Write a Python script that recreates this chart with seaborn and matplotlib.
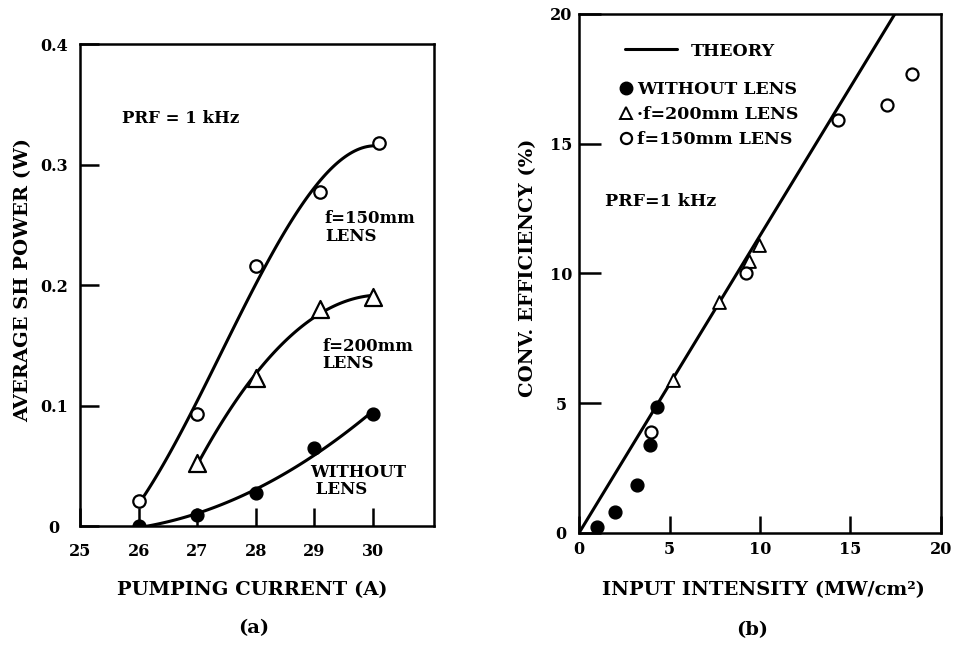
import numpy as np
import pandas as pd
import matplotlib
matplotlib.use("Agg")
import matplotlib.pyplot as plt
from matplotlib.lines import Line2D
import seaborn as sns

# ---------------- Panel (a): average SH power vs pumping current ----------------
current_none = [26, 27, 28, 29, 30]
power_none = [0.0, 0.009, 0.027, 0.065, 0.093]
current_200 = [27, 28, 29.1, 30]
power_200 = [0.052, 0.123, 0.180, 0.190]
current_150 = [26, 27, 28, 29.1, 30.1]
power_150 = [0.021, 0.093, 0.216, 0.277, 0.318]
a_xticks = [25, 26, 27, 28, 29, 30]
a_yticks = [0, 0.1, 0.2, 0.3, 0.4]
a_yticklabels = ["0", "0.1", "0.2", "0.3", "0.4"]

# ---------------- Panel (b): conversion efficiency vs input intensity ----------------
int_none = [1.0, 2.0, 3.2, 3.9, 4.3]
eff_none = [0.25, 0.8, 1.85, 3.4, 4.85]
int_200 = [5.2, 7.75, 9.4, 9.95]
eff_200 = [5.9, 8.9, 10.5, 11.1]
int_150 = [4.0, 9.2, 14.3, 17.0, 18.4]
eff_150 = [3.9, 10.0, 15.9, 16.5, 17.7]
theory_x = [0, 17.45]
theory_y = [0, 20]
b_ticks = [0, 5, 10, 15, 20]

sns.set_style("white")
plt.rcParams["font.family"] = ["DejaVu Serif"]
plt.rcParams["font.weight"] = "bold"
for key in ["text.color", "axes.labelcolor", "xtick.color", "ytick.color", "axes.edgecolor"]:
    plt.rcParams[key] = "black"

fig = plt.figure(figsize=(9.54, 6.51), dpi=100)
ax1 = fig.add_axes([0.08386, 0.19201, 0.37107, 0.74040])
ax2 = fig.add_axes([0.60692, 0.18126, 0.37945, 0.79724])

LW = 2.2
SPW = 1.8

for ax in (ax1, ax2):
    for sp in ax.spines.values():
        sp.set_linewidth(SPW)
        sp.set_color("black")
        sp.set_visible(True)

# ---- panel (a) curves ----
sns.regplot(x=current_150, y=power_150, order=3, ci=None, scatter=False, truncate=True,
            line_kws=dict(color="black", lw=LW), ax=ax1)
sns.regplot(x=current_200, y=power_200, order=2, ci=None, scatter=False, truncate=True,
            line_kws=dict(color="black", lw=LW), ax=ax1)
sns.regplot(x=current_none, y=power_none, order=2, ci=None, scatter=False, truncate=True,
            line_kws=dict(color="black", lw=LW), ax=ax1)

sns.scatterplot(x=current_150, y=power_150, marker="o", s=80, color="white",
                edgecolor="black", linewidth=1.6, zorder=4, ax=ax1)
sns.scatterplot(x=current_200, y=power_200, marker="^", s=150, color="white",
                edgecolor="black", linewidth=1.6, zorder=4, ax=ax1)
sns.scatterplot(x=current_none, y=power_none, marker="o", s=85, color="black",
                edgecolor="black", linewidth=1.0, zorder=4, ax=ax1)

ax1.set_xlim(25, 31.04)
ax1.set_ylim(0, 0.4)
ax1.set_xticks(a_xticks)
ax1.set_xticklabels([str(t) for t in a_xticks])
ax1.set_yticks(a_yticks)
ax1.set_yticklabels(a_yticklabels)
ax1.tick_params(axis="both", direction="in", width=1.8, labelsize=11.5,
                bottom=True, left=True, top=False, right=False, colors="black")
ax1.tick_params(axis="y", length=14, pad=18.5)
ax1.tick_params(axis="x", length=13, pad=12)
plt.setp(ax1.get_yticklabels(), ha="center")
ax1.set_xlabel("PUMPING CURRENT (A)", fontsize=14, fontweight="bold")
ax1.set_ylabel("AVERAGE SH POWER (W)", fontsize=14, fontweight="bold")
ax1.xaxis.set_label_coords(0.486, -0.133)
ax1.yaxis.set_label_coords(-0.160, 0.51)
ax1.xaxis.label.set_va("center")
ax1.yaxis.label.set_va("center")

ax1.text(25.71, 0.338, "PRF = 1 kHz", fontsize=12, fontweight="bold", va="center", ha="left")
ax1.text(29.18, 0.2477, "f=150mm\nLENS", fontsize=12, fontweight="bold", va="center",
         ha="left", linespacing=1.05)
ax1.text(29.13, 0.142, "f=200mm\nLENS", fontsize=12, fontweight="bold", va="center",
         ha="left", linespacing=1.05)
ax1.text(28.92, 0.037, "WITHOUT\n LENS", fontsize=12, fontweight="bold", va="center",
         ha="left", linespacing=1.0)

# ---- panel (b) ----
sns.lineplot(x=theory_x, y=theory_y, color="black", lw=LW, ax=ax2)
sns.scatterplot(x=int_none, y=eff_none, marker="o", s=85, color="black",
                edgecolor="black", linewidth=1.0, zorder=4, ax=ax2)
sns.scatterplot(x=int_200, y=eff_200, marker="^", s=85, color="white",
                edgecolor="black", linewidth=1.4, zorder=4, ax=ax2)
sns.scatterplot(x=int_150, y=eff_150, marker="o", s=75, color="white",
                edgecolor="black", linewidth=1.6, zorder=4, ax=ax2)

ax2.set_xlim(0, 20)
ax2.set_ylim(0, 20)
ax2.set_xticks(b_ticks)
ax2.set_yticks(b_ticks)
ax2.set_xticklabels([str(t) for t in b_ticks])
ax2.set_yticklabels([str(t) for t in b_ticks])
ax2.tick_params(axis="both", direction="in", width=1.8, labelsize=11.5,
                bottom=True, left=True, top=False, right=False, colors="black")
ax2.tick_params(axis="y", length=16, pad=13)
ax2.tick_params(axis="x", length=12, pad=6)
plt.setp(ax2.get_yticklabels(), ha="center")
ax2.set_xlabel("INPUT INTENSITY (MW/cm²)", fontsize=14, fontweight="bold")
ax2.set_ylabel("CONV. EFFICIENCY (%)", fontsize=14, fontweight="bold")
ax2.xaxis.set_label_coords(0.51, -0.11)
ax2.yaxis.set_label_coords(-0.141, 0.51)
ax2.xaxis.label.set_va("center")
ax2.yaxis.label.set_va("center")

ax2.text(1.44, 12.77, "PRF=1 kHz", fontsize=12.5, fontweight="bold", va="center", ha="left")

h_theory = [Line2D([], [], color="black", lw=LW)]
leg1 = ax2.legend(h_theory, ["THEORY"], loc="upper left", bbox_to_anchor=(0.127, 0.945),
                  frameon=False, borderpad=0, borderaxespad=0, handlelength=3.0,
                  handletextpad=0.8, prop=dict(size=12.5, weight="bold"))
ax2.add_artist(leg1)
h_marks = [
    Line2D([], [], ls="", marker="o", ms=9, mfc="black", mec="black"),
    Line2D([], [], ls="", marker="^", ms=8, mfc="white", mec="black", mew=1.4),
    Line2D([], [], ls="", marker="o", ms=8, mfc="white", mec="black", mew=1.6),
]
ax2.legend(h_marks, ["WITHOUT LENS", "·f=200mm LENS", "f=150mm LENS"], loc="upper left",
           bbox_to_anchor=(0.115, 0.87), frameon=False, borderpad=0, borderaxespad=0,
           handlelength=0.6, handletextpad=0.35, labelspacing=0.45,
           prop=dict(size=12.5, weight="bold"))

fig.text(254 / 954, 1 - 628 / 651, "(a)", fontsize=14, fontweight="bold", ha="center", va="center")
fig.text(752 / 954, 1 - 630 / 651, "(b)", fontsize=14, fontweight="bold", ha="center", va="center")

fig.savefig("out.png", dpi=100, facecolor="white")
